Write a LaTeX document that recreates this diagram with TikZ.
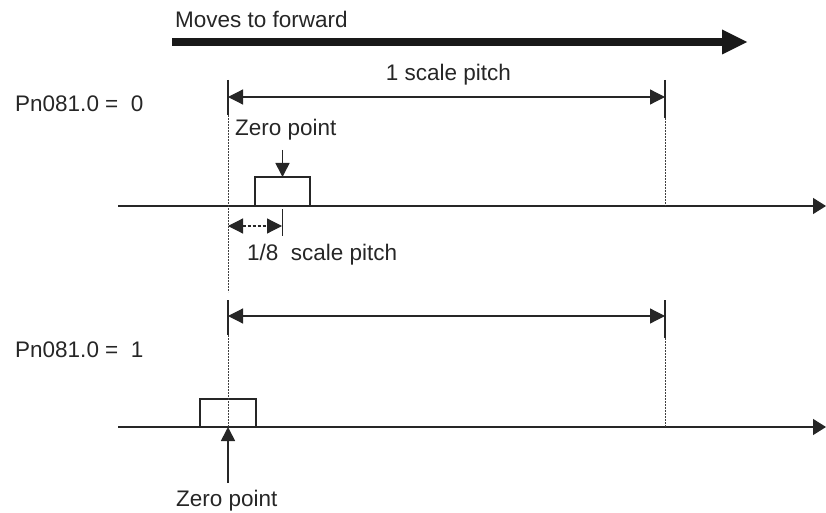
\documentclass[tikz,border=0pt]{standalone}
\usepackage{fontspec}
\setmainfont{Liberation Sans}
\usetikzlibrary{arrows.meta}

\begin{document}
\begin{tikzpicture}[x=1pt, y=-1pt,
  txt/.style={inner sep=0pt, font=\fontsize{22.5}{26}\selectfont, text=black!85},
  axis/.style={-{Triangle[length=13pt,width=16pt]}, line width=1.3pt, draw=black!85},
  fwd/.style={-{Triangle[length=25pt,width=25pt,line width=0pt]}, line width=8pt, draw=black!90},
  dim/.style={{Triangle[length=15pt,width=15pt]}-{Triangle[length=15pt,width=15pt]}, line width=1.2pt, draw=black!85},
  refsolid/.style={line width=1.6pt, draw=black!85},
  refdash/.style={line width=1pt, draw=black!75, dash pattern=on 2pt off 1pt},
  pulse/.style={line width=2pt, draw=black!85},
  zeroarrow/.style={-{Triangle[length=14pt,width=14pt]}, line width=1.6pt, draw=black!85}]

  \useasboundingbox (0,0) rectangle (826,513);

  % direction of travel
  \coordinate (fwdS) at (172,42);
  \coordinate (fwdE) at (747,42);
  \node[txt, anchor=base west] (fwdtxt) at (175,28) {Moves to forward};
  \draw[fwd] (fwdS) -- (fwdE);

  % Pn081.0 = 0
  \node[txt, anchor=base west] (setA) at (15,112) {Pn081.0 =\ \ 0};
  \coordinate (axAS) at (118,206);
  \coordinate (axAE) at (826,206);
  \coordinate (lA1) at (228,80);
  \coordinate (lA2) at (228,115);
  \coordinate (lA3) at (228,292);
  \coordinate (rA1) at (665,80);
  \coordinate (rA2) at (665,118);
  \coordinate (rA3) at (665,206);
  \coordinate (dimAL) at (228,97);
  \coordinate (dimAR) at (665,97);
  \coordinate (boxA1) at (255,206);
  \coordinate (boxA2) at (255,177);
  \coordinate (boxA3) at (310,177);
  \coordinate (boxA4) at (310,206);
  \coordinate (zeroAS) at (282.5,150);
  \coordinate (zeroAT) at (282.5,177);
  \coordinate (eighthL) at (228,226);
  \coordinate (eighthR) at (282,226);
  \coordinate (tickT) at (282,209);
  \coordinate (tickB) at (282,236);

  \draw[axis] (axAS) -- (axAE);
  \draw[refsolid] (lA1) -- (lA2);
  \draw[refdash] (lA2) -- (lA3);
  \draw[refsolid] (rA1) -- (rA2);
  \draw[refdash] (rA2) -- (rA3);
  \draw[dim] (dimAL) -- (dimAR);
  \node[txt, anchor=base] (pitchA) at (448.5,81) {1 scale pitch};
  \draw[pulse] (boxA1) -- (boxA2) -- (boxA3) -- (boxA4);
  \node[txt, anchor=base west] (zeroA) at (235,136) {Zero point};
  \draw[zeroarrow] (zeroAS) -- (zeroAT);
  \draw[dim, dash pattern=on 3pt off 2pt] (eighthL) -- (eighthR);
  \draw[line width=1pt, draw=black!85] (tickT) -- (tickB);
  \node[txt, anchor=base west] (eighth) at (247,260) {1/8\ \ scale pitch};

  % Pn081.0 = 1
  \node[txt, anchor=base west] (setB) at (15,357) {Pn081.0 =\ \ 1};
  \coordinate (axBS) at (118,427);
  \coordinate (axBE) at (826,427);
  \coordinate (lB1) at (228,300);
  \coordinate (lB2) at (228,335);
  \coordinate (lB3) at (228,427);
  \coordinate (rB1) at (665,300);
  \coordinate (rB2) at (665,338);
  \coordinate (rB3) at (665,427);
  \coordinate (dimBL) at (228,316);
  \coordinate (dimBR) at (665,316);
  \coordinate (boxB1) at (200,427);
  \coordinate (boxB2) at (200,399);
  \coordinate (boxB3) at (256,399);
  \coordinate (boxB4) at (256,427);
  \coordinate (zeroBS) at (228,483);
  \coordinate (zeroBT) at (228,427);

  \draw[axis] (axBS) -- (axBE);
  \draw[pulse] (boxB1) -- (boxB2) -- (boxB3) -- (boxB4);
  \draw[refsolid] (lB1) -- (lB2);
  \draw[refdash] (lB2) -- (lB3);
  \draw[refsolid] (rB1) -- (rB2);
  \draw[refdash] (rB2) -- (rB3);
  \draw[dim] (dimBL) -- (dimBR);
  \draw[zeroarrow] (zeroBS) -- (zeroBT);
  \node[txt, anchor=base west] (zeroB) at (176,506) {Zero point};
\end{tikzpicture}
\end{document}
